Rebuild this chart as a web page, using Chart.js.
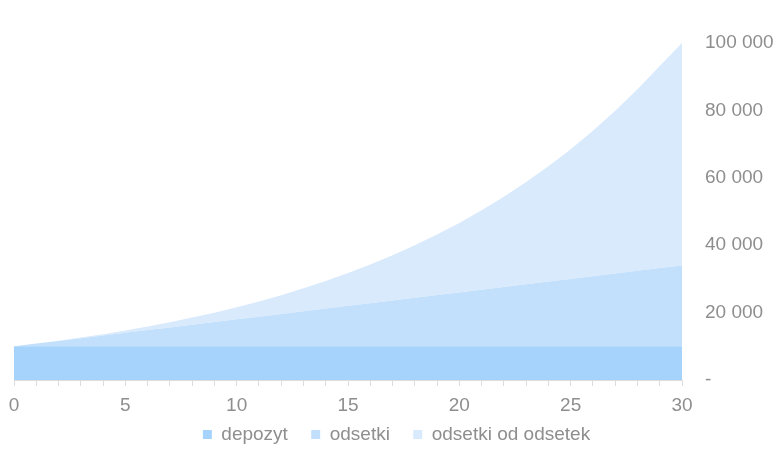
<!DOCTYPE html>
<html>
<head>
<meta charset="utf-8">
<script src="https://cdn.jsdelivr.net/npm/chart.js@4"></script>
<style>
html,body{margin:0;padding:0;background:#fff;}
#wrap{width:779px;height:456px;}
</style>
</head>
<body>
<div id="wrap"><canvas id="c" width="779" height="456"></canvas></div>
<script>
const years = [0,1,2,3,4,5,6,7,8,9,10,11,12,13,14,15,16,17,18,19,20,21,22,23,24,25,26,27,28,29,30];
const depozyt = [10000,10000,10000,10000,10000,10000,10000,10000,10000,10000,10000,10000,10000,10000,10000,10000,10000,10000,10000,10000,10000,10000,10000,10000,10000,10000,10000,10000,10000,10000,10000];
const odsetki = [0,800,1600,2400,3200,4000,4800,5600,6400,7200,8000,8800,9600,10400,11200,12000,12800,13600,14400,15200,16000,16800,17600,18400,19200,20000,20800,21600,22400,23200,24000];
const odsetkiOdOdsetek = [0,0,60,200,400,700,1070,1540,2110,2790,3590,4520,5580,6800,8170,9720,11460,13400,15560,17960,20610,23540,26770,30320,34210,38490,43160,48280,53870,59970,66000];
const seriesNames = ['depozyt','odsetki','odsetki od odsetek'];
const yTicks = [0,20000,40000,60000,80000,100000];

const colors = ['#a6d3fb','#c2e0fb','#d9eafc'];
const textColor = '#8e8e8e';
const fontFamily = '"Liberation Sans", Helvetica, Arial, sans-serif';

function fmt(v){
  if (v === 0) return '-';
  return String(v).replace(/\B(?=(\d{3})+(?!\d))/g, ' ');
}

new Chart(document.getElementById('c'), {
  type: 'line',
  data: {
    labels: years,
    datasets: [depozyt, odsetki, odsetkiOdOdsetek].map((d,i)=>({
      label: seriesNames[i],
      data: d,
      backgroundColor: colors[i],
      borderColor: colors[i],
      borderWidth: 0,
      pointRadius: 0,
      tension: 0,
      fill: i === 0 ? 'origin' : '-1'
    }))
  },
  options: {
    responsive: false,
    animation: false,
    layout: { padding: { left: 14, right: 0, top: 43, bottom: 2 } },
    plugins: {
      tooltip: { enabled: false },
      legend: {
        position: 'bottom',
        labels: {
          color: textColor,
          font: { family: fontFamily, size: 19 },
          boxWidth: 9,
          boxHeight: 9,
          padding: 10,
          generateLabels: function(chart){
            const items = Chart.defaults.plugins.legend.labels.generateLabels(chart);
            items.forEach((it, i) => { if (i < items.length - 1) it.text = it.text + '\u2002\u2009'; });
            return items;
          }
        }
      }
    },
    scales: {
      x: {
        type: 'category',
        offset: false,
        afterFit: function(s){ s.height = 35; s.paddingLeft = 0; },
        grid: { display: true, drawOnChartArea: false, drawTicks: true, tickLength: 6, color: '#dddddd' },
        border: { display: true, color: '#dddddd' },
        ticks: {
          color: textColor,
          font: { family: fontFamily, size: 19, lineHeight: 1.1 },
          padding: 9,
          maxRotation: 0,
          autoSkip: false,
          callback: function(v, i){ return (years[i] % 5 === 0) ? String(years[i]) : ''; }
        }
      },
      y: {
        position: 'right',
        stacked: true,
        min: 0,
        max: 100000,
        afterBuildTicks: function(s){ s.ticks = yTicks.map(v=>({value:v})); },
        afterFit: function(s){ s.width = 97; },
        grid: { display: false, drawTicks: false },
        border: { display: false },
        ticks: {
          color: textColor,
          font: { family: fontFamily, size: 19 },
          padding: 23,
          callback: fmt
        }
      }
    }
  }
});
</script>
</body>
</html>
